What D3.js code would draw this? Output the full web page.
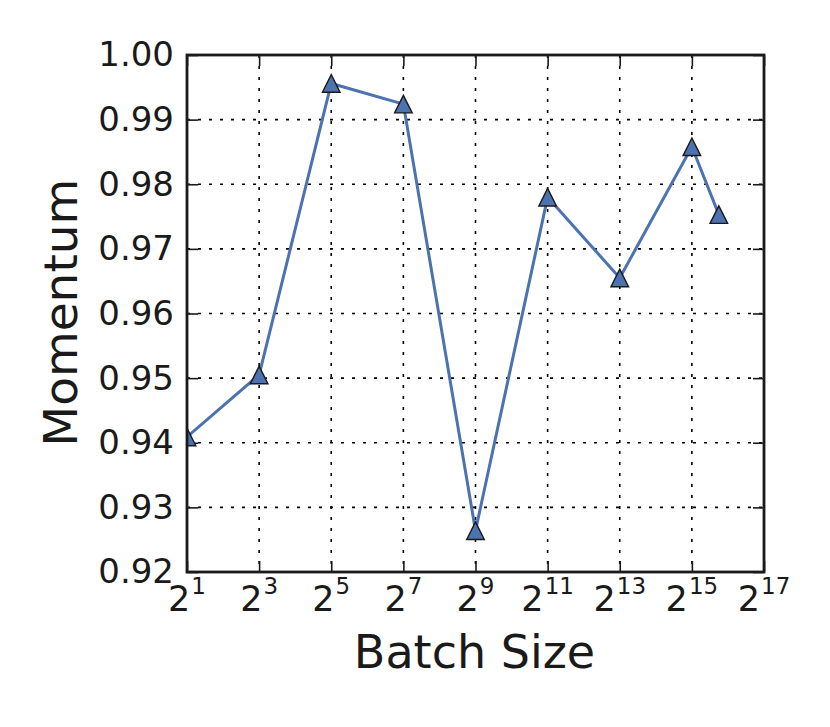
<!DOCTYPE html>
<html>
<head>
<meta charset="utf-8">
<script src="https://cdn.jsdelivr.net/npm/d3@7"></script>
<style>
  body { margin: 0; background: #fff; }
  svg { display: block; font-family: "DejaVu Sans", sans-serif; }
</style>
</head>
<body>
<svg id="chart" width="830" height="727"></svg>
<script>
// ---- data ----
const batchSizes = [2, 8, 32, 128, 512, 2048, 8192, 32768, 55000];
const momentum   = [0.9409, 0.9505, 0.9956, 0.9924, 0.9264, 0.978, 0.9655, 0.9858, 0.9753];
const xTickExponents = [1, 3, 5, 7, 9, 11, 13, 15, 17];
const yTicks = [0.92, 0.93, 0.94, 0.95, 0.96, 0.97, 0.98, 0.99, 1.00];
const xLabel = "Batch Size";
const yLabel = "Momentum";

// ---- layout ----
const margin = {left: 187, top: 55, right: 66, bottom: 155};
const W = 830, H = 727;
const w = W - margin.left - margin.right;
const h = H - margin.top - margin.bottom;
const textColor = "#1a1a1a";
const lineColor = "#4C72B0";

const svg = d3.select("#chart");
const g = svg.append("g").attr("transform", `translate(${margin.left},${margin.top})`);

const x = d3.scaleLog().base(2).domain([2, Math.pow(2, 17)]).range([0, w]);
const y = d3.scaleLinear().domain([0.92, 1.00]).range([h, 0]);

svg.append("defs").append("clipPath").attr("id", "clip")
  .append("rect").attr("width", w).attr("height", h);

// grid
const grid = g.append("g");
const gridDash = "3,8";
grid.selectAll("line.gx").data(xTickExponents).join("line")
  .attr("x1", d => x(Math.pow(2, d))).attr("x2", d => x(Math.pow(2, d)))
  .attr("y1", 0).attr("y2", h)
  .attr("stroke", "#000").attr("stroke-width", 1.6).attr("stroke-dasharray", gridDash);
grid.selectAll("line.gy").data(yTicks).join("line")
  .attr("y1", d => y(d)).attr("y2", d => y(d))
  .attr("x1", 0).attr("x2", w)
  .attr("stroke", "#000").attr("stroke-width", 1.6).attr("stroke-dasharray", gridDash);

// axes ticks (inward)
const tickLen = 11;
const axL = g.append("g").call(d3.axisLeft(y).tickValues(yTicks).tickSize(-tickLen).tickPadding(13).tickFormat(d3.format(".2f")));
const axR = g.append("g").attr("transform", `translate(${w},0)`).call(d3.axisRight(y).tickValues(yTicks).tickSize(-tickLen).tickFormat(""));
const axB = g.append("g").attr("transform", `translate(0,${h})`).call(d3.axisBottom(x).tickValues(xTickExponents.map(e => Math.pow(2, e))).tickSize(-tickLen).tickFormat(""));
const axT = g.append("g").call(d3.axisTop(x).tickValues(xTickExponents.map(e => Math.pow(2, e))).tickSize(-tickLen).tickFormat(""));
[axL, axR, axB, axT].forEach(a => {
  a.select(".domain").remove();
  a.selectAll(".tick line").attr("stroke", textColor).attr("stroke-width", 1.6);
});
axL.selectAll(".tick text").attr("font-size", 34).attr("fill", textColor)
  .attr("font-family", "DejaVu Sans, sans-serif");

// x tick labels with superscripts
const xl = g.append("g").attr("transform", `translate(0,${h})`);
xl.selectAll("text").data(xTickExponents).join("text")
  .attr("x", d => x(Math.pow(2, d)))
  .attr("y", 39)
  .attr("text-anchor", "middle")
  .attr("fill", textColor)
  .attr("font-size", 35)
  .each(function(d) {
    const t = d3.select(this);
    t.append("tspan").text("2");
    t.append("tspan").attr("font-size", 23).attr("dy", -17).attr("dx", 1).text(String(d));
  });

// line + markers
const pts = batchSizes.map((b, i) => ({b, m: momentum[i]}));
const plot = g.append("g").attr("clip-path", "url(#clip)");
plot.append("path").datum(pts)
  .attr("fill", "none").attr("stroke", lineColor).attr("stroke-width", 3)
  .attr("d", d3.line().x(d => x(d.b)).y(d => y(d.m)));
const s = 8.8;
plot.selectAll("path.mk").data(pts).join("path")
  .attr("class", "mk")
  .attr("transform", d => `translate(${x(d.b)},${y(d.m)})`)
  .attr("d", `M0,${-s}L${s},${s}L${-s},${s}Z`)
  .attr("fill", lineColor).attr("stroke", "#1a1a1a").attr("stroke-width", 1.4)
  .attr("stroke-linejoin", "miter");

// frame
g.append("rect").attr("width", w).attr("height", h)
  .attr("fill", "none").attr("stroke", textColor).attr("stroke-width", 2.8);

// axis labels
svg.append("text").attr("x", margin.left + w / 2 - 1).attr("y", 668)
  .attr("text-anchor", "middle").attr("font-size", 46).attr("fill", textColor).text(xLabel);
svg.append("text").attr("transform", `translate(77,${margin.top + h / 2 - 1}) rotate(-90)`)
  .attr("text-anchor", "middle").attr("font-size", 47).attr("fill", textColor).text(yLabel);
</script>
</body>
</html>
